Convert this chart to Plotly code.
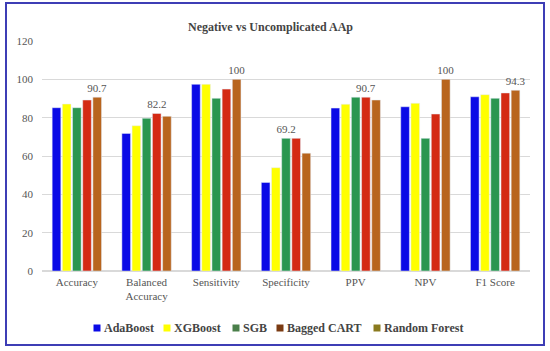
import plotly.graph_objects as go

categories = ["Accuracy", "Balanced<br>Accuracy", "Sensitivity", "Specificity", "PPV", "NPV", "F1 Score"]
models = ["AdaBoost", "XGBoost", "SGB", "Bagged CART", "Random Forest"]
ada = [85.2, 71.8, 97.4, 46.2, 85.0, 85.7, 90.9]
xgb = [87.1, 75.8, 97.4, 53.9, 87.0, 87.5, 92.0]
sgb = [85.2, 79.7, 90.1, 69.2, 90.7, 69.2, 90.1]
bagged = [89.2, 82.2, 94.9, 69.2, 90.7, 81.9, 92.9]
rf = [90.7, 80.7, 100, 61.5, 89.2, 100, 94.3]
labels_sgb = ["", "", "", "69.2", "", "", ""]
labels_bagged = ["", "82.2", "", "", "90.7", "", ""]
labels_rf = ["90.7", "", "100", "", "", "100", "94.3"]

series = [ada, xgb, sgb, bagged, rf]
texts = [None, None, labels_sgb, labels_bagged, labels_rf]
colors = ["#0a0ae6", "#ffff00", "#2a9650", "#d42a14", "#b8651e"]
legend_colors = ["#0a0ae6", "#ffff00", "#4a7f4a", "#7a3a12", "#8a7a1e"]

fig = go.Figure()
for name, vals, txt, col in zip(models, series, texts, colors):
    fig.add_trace(go.Bar(
        name=name, x=categories, y=vals, marker_color=col,
        text=txt, textposition="outside", cliponaxis=False, constraintext="none",
        textfont=dict(family="Liberation Serif", size=11, color="#555555"),
    ))

W, H = 550, 351
ml, mr, mt, mb = 42, 20, 41, 80
pw, ph = W - ml - mr, H - mt - mb

def px(x):
    return (x - ml) / pw

def py(y):
    return (H - mb - y) / ph

fig.add_shape(type="rect", xref="paper", yref="paper",
              x0=px(6), x1=px(544), y0=py(345), y1=py(3),
              line=dict(color="#3d3db5", width=2), fillcolor="rgba(0,0,0,0)")

# manual legend (key squares + bold labels)
legend_x = [97, 167, 236, 280, 377]
ly = 328
for name, col, lx in zip(models, legend_colors, legend_x):
    fig.add_shape(type="rect", xref="paper", yref="paper",
                  x0=px(lx - 3.5), x1=px(lx + 3.5), y0=py(ly + 3.5), y1=py(ly - 3.5),
                  line=dict(width=0), fillcolor=col)
    fig.add_annotation(xref="paper", yref="paper", x=px(lx + 5), y=py(ly),
                       xanchor="left", yanchor="middle", showarrow=False,
                       text="<b>" + name + "</b>",
                       font=dict(family="Liberation Serif", size=12, color="#444444"))

fig.update_layout(
    width=W, height=H,
    margin=dict(l=ml, r=mr, t=mt, b=mb),
    paper_bgcolor="white", plot_bgcolor="white",
    barmode="group", bargap=0.27, bargroupgap=0.15,
    title=dict(text="<b>Negative vs Uncomplicated AAp</b>", x=px(282), xanchor="center",
               y=1 - 27 / H, yanchor="middle",
               font=dict(family="Liberation Serif", size=12, color="#444444")),
    font=dict(family="Liberation Serif", color="#555555"),
    showlegend=False,
)
fig.update_yaxes(range=[0, 120], dtick=20, showgrid=True, gridcolor="#d9d9d9", gridwidth=1,
                 zeroline=True, zerolinecolor="#d9d9d9", showline=False, ticklabelstandoff=8,
                 tickfont=dict(family="Liberation Serif", size=11, color="#555555"), ticklen=0)
fig.update_xaxes(showline=False, ticklabelstandoff=3,
                 tickfont=dict(family="Liberation Serif", size=11, color="#555555"),
                 ticks="")

fig.write_html("out.html", config={"displayModeBar": False},
               post_script="document.body.style.margin='0';document.body.style.overflow='hidden';")
